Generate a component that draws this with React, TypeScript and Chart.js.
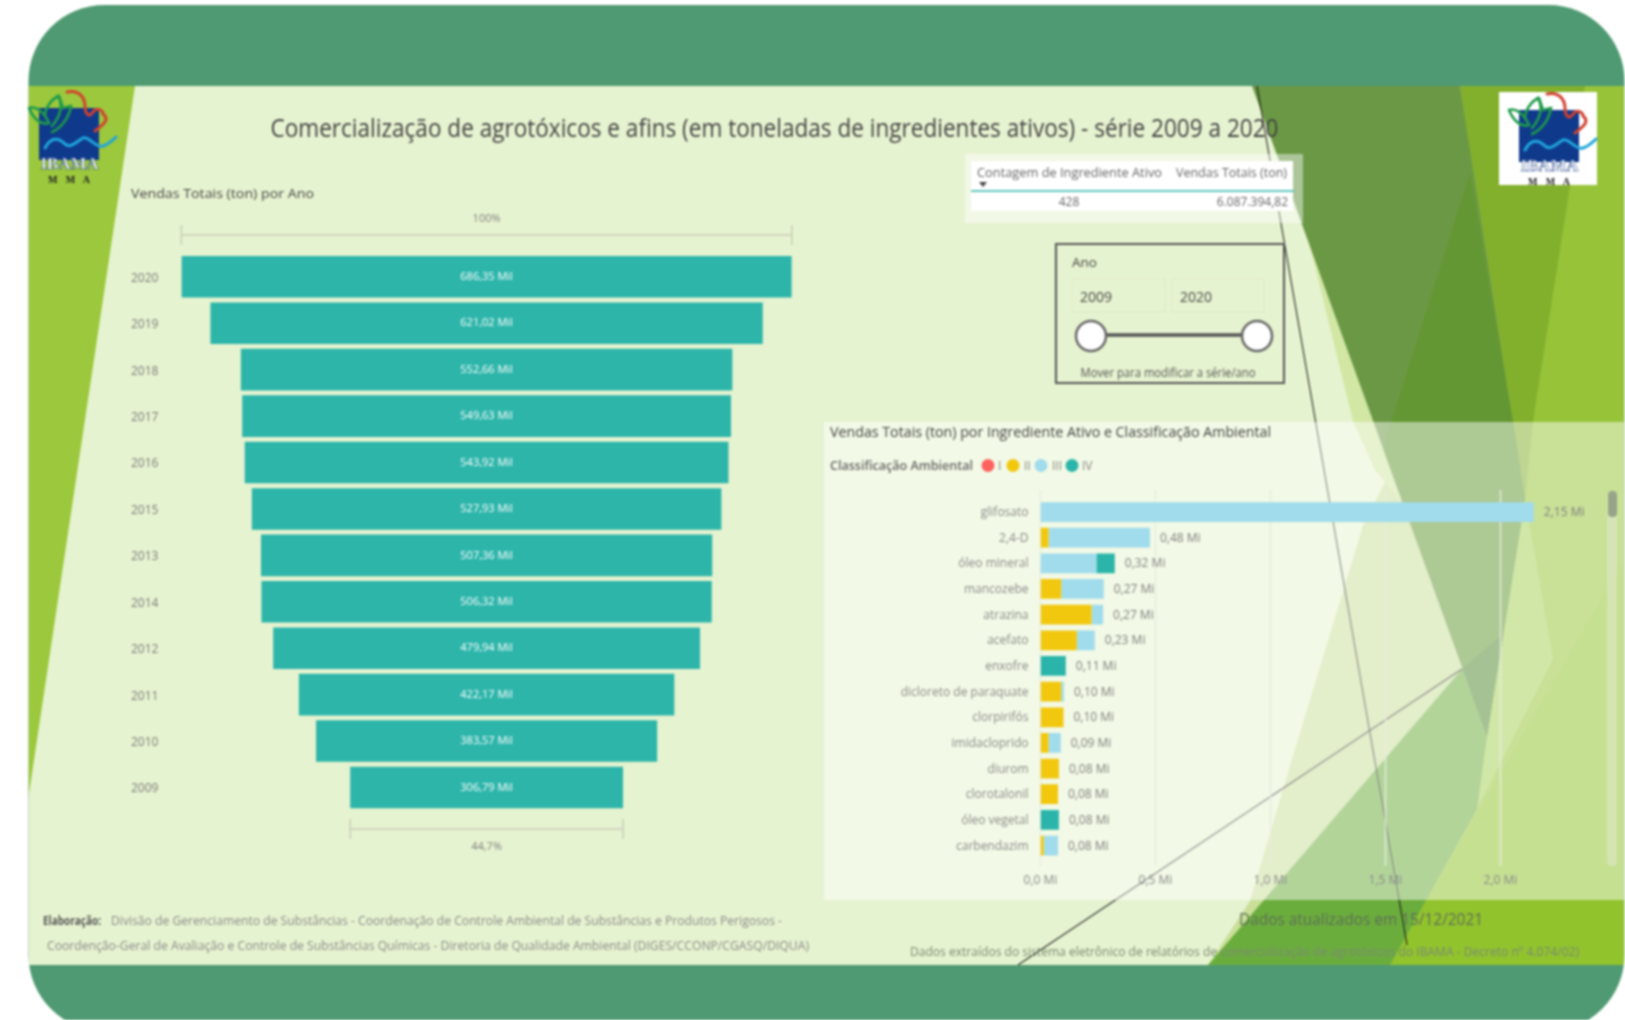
import React, { useEffect, useRef } from "react";
import { Chart, registerables } from "chart.js";

Chart.register(...registerables);

const FONT = "'Open Sans', sans-serif";

const years = ["2020", "2019", "2018", "2017", "2016", "2015", "2013", "2014", "2012", "2011", "2010", "2009"];
const salesThousands = [686.35, 621.02, 552.66, 549.63, 543.92, 527.93, 507.36, 506.32, 479.94, 422.17, 383.57, 306.79];
const salesLabels = ["686,35 Mil", "621,02 Mil", "552,66 Mil", "549,63 Mil", "543,92 Mil", "527,93 Mil", "507,36 Mil", "506,32 Mil", "479,94 Mil", "422,17 Mil", "383,57 Mil", "306,79 Mil"];
const funnelTopLabel = "100%";
const funnelBottomLabel = "44,7%";

const ingredients = ["glifosato", "2,4-D", "óleo mineral", "mancozebe", "atrazina", "acefato", "enxofre", "dicloreto de paraquate", "clorpirifós", "imidacloprido", "diurom", "clorotalonil", "óleo vegetal", "carbendazim"];
const classI = [0, 0, 0, 0, 0, 0, 0, 0, 0, 0, 0, 0, 0, 0];
const classII = [0, 0.035, 0, 0.09, 0.222, 0.158, 0, 0.09, 0.1, 0.035, 0.08, 0.076, 0, 0.014];
const classIII = [2.145, 0.441, 0.243, 0.185, 0.05, 0.078, 0, 0.012, 0, 0.053, 0, 0, 0, 0.062];
const classIV = [0, 0, 0.08, 0, 0, 0, 0.11, 0, 0, 0, 0, 0, 0.08, 0];
const totalLabels = ["2,15 Mi", "0,48 Mi", "0,32 Mi", "0,27 Mi", "0,27 Mi", "0,23 Mi", "0,11 Mi", "0,10 Mi", "0,10 Mi", "0,09 Mi", "0,08 Mi", "0,08 Mi", "0,08 Mi", "0,08 Mi"];
const xTickLabels = ["0,0 Mi", "0,5 Mi", "1,0 Mi", "1,5 Mi", "2,0 Mi"];

const legendNames = ["I", "II", "III", "IV"];
const COLORS = { I: "#FD625E", II: "#F2C80F", III: "#A0DCEC", IV: "#2BB5AA", funnel: "#2DB5AA" };

function Txt({ x, y, w, size = 12, fill = "#666", weight = 400, anchor = "start", family = FONT, children }: any) {
  return (
    <text
      x={x}
      y={y + size * 0.36}
      fontSize={size}
      fill={fill}
      fontWeight={weight}
      textAnchor={anchor}
      fontFamily={family}
      {...(w ? { textLength: w, lengthAdjust: "spacingAndGlyphs" } : {})}
    >
      {children}
    </text>
  );
}

function Logo({ tx, ty }: any) {
  return (
    <g transform={`translate(${tx} ${ty})`}>
      <rect x={14} y={22} width={60} height={52} fill="#0F3A8C" />
      <g fill="none" stroke="#1F9A4A" strokeWidth={2.6} strokeLinecap="round">
        <path d="M4 22 C10 20 18 24 24 37 C16 40 8 32 4 22" />
        <path d="M20 30 C20 22 26 14 33 10 C38 18 36 30 27 40" />
        <path d="M34 10 L38 22 C40 22 44 20 46 20 C44 32 36 42 27 46" />
      </g>
      <path d="M42 6 C54 3 60 12 60 20 C60 28 64 32 68 26 C72 21 78 24 78 28 C86 34 76 40 70 45" fill="none" stroke="#D2402F" strokeWidth={3} strokeLinecap="round" />
      <path d="M20 62 C26 50 34 52 40 58 C46 63 52 55 58 52 C64 50 70 62 78 60 C84 58 88 54 91 51" fill="none" stroke="#1FA5DC" strokeWidth={3} strokeLinecap="round" />
      <text x={44.5} y={83} textAnchor="middle" fontFamily="'Liberation Serif', serif" fontWeight={700} fontSize={16} fill="#fff" stroke="#1F3F86" strokeWidth={0.5} textLength={58} lengthAdjust="spacingAndGlyphs">IBAMA</text>
      <text x={44} y={97} textAnchor="middle" fontFamily="'Liberation Serif', serif" fontWeight={700} fontSize={10} fill="#222" textLength={42} lengthAdjust="spacing">M M A</text>
    </g>
  );
}

function Background() {
  return (
    <svg width={1625} height={1020} style={{ position: "absolute", left: 0, top: 0 }}>
      <defs>
        <clipPath id="frame">
          <rect x={28.5} y={5} width={1596} height={1026} rx={76} ry={76} />
        </clipPath>
        <clipPath id="body">
          <rect x={28.5} y={86} width={1596} height={879} />
        </clipPath>
      </defs>
      <g clipPath="url(#frame)">
        <rect x={0} y={0} width={1625} height={1020} fill="#4F9A72" />
        <g clipPath="url(#body)">
          <rect x={28} y={86} width={1597} height={879} fill="#E6F3D0" />
          <polygon points="28,86 135,86 28,800" fill="#9BC83C" />
          <polygon points="1391,470 1462,669 1208,965 1250,901 1290,766 1363,526" fill="#C9DF99" />
          <polygon points="1460,86 1624,86 1624,965 1390,965 1520,526" fill="#97C339" />
          <polygon points="1460,86 1585,86 1570,186 1533,421 1525,499 1513,421" fill="#82B02C" />
          <polygon points="1525,499 1553,659 1477,809 1487,736" fill="#A8D257" />
          <polygon points="1390,965 1624,560 1624,965" fill="#91C32D" />
          <polygon points="1208,965 1462,669 1487,736 1477,809 1390,965" fill="#6BAD3D" />
          <polygon points="1310,246 1373,421 1403,504 1375,470 1353,421" fill="#D2E7A4" />
          <polygon points="1252,86 1460,86 1525,499 1487,736" fill="#6B9845" />
          <polygon points="1470,173 1513,421 1525,499 1487,736 1383,448" fill="#639733" />
          <polygon points="1462,669 1503,634 1487,736" fill="#548A32" />
          <line x1={1257} y1={86} x2={1407} y2={945} stroke="#111" strokeWidth={1} />
          <line x1={1018} y1={965} x2={1462} y2={669} stroke="#222" strokeWidth={1.1} />
          <rect x={824} y={422} width={801} height={478} fill="#fff" fillOpacity={0.48} />
          <rect x={1607} y={492} width={10} height={374} rx={4} fill="#DDE6C4" fillOpacity={0.65} />
          <rect x={1608} y={491} width={9} height={26} rx={4} fill="#97A488" />
        </g>
      </g>
    </svg>
  );
}

function Overlay() {
  const legendDots = [
    { cx: 988, tx: 998, c: COLORS.I },
    { cx: 1013, tx: 1024, c: COLORS.II },
    { cx: 1041, tx: 1052, c: COLORS.III },
    { cx: 1072, tx: 1082, c: COLORS.IV },
  ];
  return (
    <svg width={1625} height={1020} style={{ position: "absolute", left: 0, top: 0, pointerEvents: "none" }}>
      <Logo tx={25} ty={86} />
      <rect x={1499} y={92} width={98} height={93} fill="#fff" />
      <Logo tx={1505} ty={88} />
      <Txt x={270.5} y={127.5} w={1008} size={26} fill="#444">Comercialização de agrotóxicos e afins (em toneladas de ingredientes ativos) - série 2009 a 2020</Txt>
      <Txt x={131} y={193} w={183} size={13.5} fill="#444">Vendas Totais (ton) por Ano</Txt>

      <rect x={965} y={154} width={338} height={69} fill="#fff" fillOpacity={0.45} />
      <rect x={971} y={161} width={322} height={50} fill="#fff" />
      <line x1={971} y1={191} x2={1294} y2={191} stroke="#2CB5AA" strokeWidth={1.5} />
      <Txt x={977} y={172} w={185} size={12.5} fill="#666">Contagem de Ingrediente Ativo</Txt>
      <Txt x={1176} y={172} w={111} size={12.5} fill="#666">Vendas Totais (ton)</Txt>
      <polygon points="979,182 987,182 983,187" fill="#444" />
      <Txt x={1069} y={202} size={12} fill="#666" anchor="middle">428</Txt>
      <Txt x={1288} y={202} size={12} fill="#666" anchor="end">6.087.394,82</Txt>

      <rect x={1056} y={244} width={228} height={139} fill="none" stroke="#555" strokeWidth={2} />
      <Txt x={1072} y={262} size={13.5} fill="#444">Ano</Txt>
      <rect x={1072} y={279} width={93} height={33} fill="none" stroke="#DDEAC8" />
      <rect x={1172} y={279} width={92} height={33} fill="none" stroke="#DDEAC8" />
      <Txt x={1080} y={296.5} size={14} fill="#444">2009</Txt>
      <Txt x={1180} y={296.5} size={14} fill="#444">2020</Txt>
      <line x1={1091} y1={335} x2={1257} y2={335} stroke="#555" strokeWidth={3.5} />
      <circle cx={1091} cy={336} r={15} fill="#fff" stroke="#666" strokeWidth={2.5} />
      <circle cx={1257} cy={336} r={15} fill="#fff" stroke="#666" strokeWidth={2.5} />
      <Txt x={1080.5} y={373} w={175} size={12} fill="#555">Mover para modificar a série/ano</Txt>

      <Txt x={830} y={432} w={441} size={14.5} fill="#444">Vendas Totais (ton) por Ingrediente Ativo e Classificação Ambiental</Txt>
      <Txt x={830} y={465.5} w={143} size={12.5} fill="#666" weight={600}>Classificação Ambiental</Txt>
      {legendDots.map((d, i) => (
        <g key={legendNames[i]}>
          <circle cx={d.cx} cy={465.5} r={6.5} fill={d.c} />
          <Txt x={d.tx} y={465.5} size={12} fill="#888">{legendNames[i]}</Txt>
        </g>
      ))}

      <Txt x={43} y={920.5} w={58} size={12} fill="#555" weight={700}>Elaboração:</Txt>
      <Txt x={111} y={920.5} w={671} size={12.5} fill="#8a8a8a">Divisão de Gerenciamento de Substâncias - Coordenação de Controle Ambiental de Substâncias e Produtos Perigosos -</Txt>
      <Txt x={47} y={945} w={762} size={12.5} fill="#8a8a8a">Coordenção-Geral de Avaliação e Controle de Substâncias Químicas - Diretoria de Qualidade Ambiental (DIGES/CCONP/CGASQ/DIQUA)</Txt>
      <Txt x={1239} y={919} w={244} size={17} fill="#5E6E55">Dados atualizados em 15/12/2021</Txt>
      <Txt x={910} y={951.5} w={669} size={12.5} fill="#7a8a72">Dados extraídos do sistema eletrônico de relatórios de comercialização de agrotóxicos do IBAMA - Decreto nº 4.074/02)</Txt>
    </svg>
  );
}

export default function App() {
  const funnelRef = useRef<HTMLCanvasElement>(null);
  const barRef = useRef<HTMLCanvasElement>(null);

  useEffect(() => {
    const peak = Math.max(...salesThousands);
    const low = Math.min(...salesThousands);

    const funnelDecor = {
      id: "funnelDecor",
      afterDatasetsDraw(chart: any) {
        const { ctx, chartArea, scales } = chart;
        const meta = chart.getDatasetMeta(0);
        ctx.save();
        ctx.textAlign = "center";
        ctx.textBaseline = "middle";
        ctx.font = `11px ${FONT}`;
        ctx.fillStyle = "#FFFFFF";
        meta.data.forEach((el: any, i: number) => ctx.fillText(salesLabels[i], scales.x.getPixelForValue(0), el.y, 60));
        const bracket = (half: number, y: number, text: string, ty: number) => {
          const a = scales.x.getPixelForValue(-half);
          const b = scales.x.getPixelForValue(half);
          ctx.strokeStyle = "#C9CDB8";
          ctx.lineWidth = 1.5;
          ctx.beginPath();
          ctx.moveTo(a, y); ctx.lineTo(b, y);
          ctx.moveTo(a, y - 10); ctx.lineTo(a, y + 10);
          ctx.moveTo(b, y - 10); ctx.lineTo(b, y + 10);
          ctx.stroke();
          ctx.fillStyle = "#808080";
          ctx.fillText(text, (a + b) / 2, ty);
        };
        bracket(peak / 2, chartArea.top - 18.6, funnelTopLabel, chartArea.top - 35);
        bracket(low / 2, chartArea.bottom + 18.3, funnelBottomLabel, chartArea.bottom + 36);
        ctx.restore();
      },
    };

    const funnel = new Chart(funnelRef.current!, {
      type: "bar",
      data: {
        labels: years,
        datasets: [{
          data: salesThousands.map((v) => [-v / 2, v / 2]) as any,
          backgroundColor: COLORS.funnel,
          borderWidth: 0,
          barPercentage: 1,
          categoryPercentage: 0.896,
        }],
      },
      options: {
        indexAxis: "y",
        animation: false,
        responsive: false,
        devicePixelRatio: 1,
        layout: { padding: { top: 48.6, bottom: 49.3, right: 19.2, left: 0 } },
        plugins: { legend: { display: false }, tooltip: { enabled: false } },
        scales: {
          x: { display: false, min: -peak / 2, max: peak / 2 },
          y: {
            grid: { display: false, drawTicks: false },
            border: { display: false },
            afterFit: (s: any) => { s.width = 50.4; },
            ticks: { crossAlign: "far", autoSkip: false, padding: 0, labelOffset: 1.5, color: "#7a7a7a", font: { family: FONT, size: 12 } },
          },
        },
      } as any,
      plugins: [funnelDecor],
    });

    const barDecor = {
      id: "barDecor",
      beforeDatasetsDraw(chart: any) {
        const { ctx, scales } = chart;
        ctx.save();
        ctx.strokeStyle = "rgba(232,236,226,0.9)";
        ctx.lineWidth = 1.5;
        scales.x.ticks.forEach((t: any) => {
          const x = scales.x.getPixelForValue(t.value);
          ctx.beginPath();
          ctx.moveTo(x, 490 - 480);
          ctx.lineTo(x, 866 - 480);
          ctx.stroke();
        });
        ctx.restore();
      },
      afterDatasetsDraw(chart: any) {
        const { ctx, scales } = chart;
        const meta = chart.getDatasetMeta(0);
        ctx.save();
        ctx.textAlign = "left";
        ctx.textBaseline = "middle";
        ctx.font = `12px ${FONT}`;
        ctx.fillStyle = "#7f7f7f";
        ingredients.forEach((_, i) => {
          const total = classI[i] + classII[i] + classIII[i] + classIV[i];
          ctx.fillText(totalLabels[i], scales.x.getPixelForValue(total) + 10, meta.data[i].y + 0.7);
        });
        ctx.restore();
      },
    };

    const bars = new Chart(barRef.current!, {
      type: "bar",
      data: {
        labels: ingredients,
        datasets: [
          { label: "I", data: classI, backgroundColor: COLORS.I },
          { label: "II", data: classII, backgroundColor: COLORS.II },
          { label: "III", data: classIII, backgroundColor: COLORS.III },
          { label: "IV", data: classIV, backgroundColor: COLORS.IV },
        ],
      },
      options: {
        indexAxis: "y",
        animation: false,
        responsive: false,
        devicePixelRatio: 1,
        datasets: { bar: { barPercentage: 0.77, categoryPercentage: 1, borderWidth: 0 } },
        layout: { padding: { top: 18.65, right: 10.8, bottom: 0, left: 0 } },
        plugins: { legend: { display: false }, tooltip: { enabled: false } },
        scales: {
          x: {
            stacked: true,
            min: 0,
            max: 2.49,
            grid: { display: false, drawTicks: false },
            border: { display: false },
            afterFit: (s: any) => { s.height = 36.65; },
            ticks: {
              stepSize: 0.5,
              includeBounds: false,
              maxRotation: 0,
              padding: 15,
              color: "#8a8a8a",
              font: { family: FONT, size: 12 },
              callback: (_: any, i: number) => xTickLabels[i],
            },
          },
          y: {
            stacked: true,
            grid: { display: false, drawTicks: false },
            border: { display: false },
            afterFit: (s: any) => { s.width = 216.5; },
            ticks: { autoSkip: false, padding: 12, labelOffset: 0.7, color: "#8a8a8a", font: { family: FONT, size: 12 } },
          },
        },
      } as any,
      plugins: [barDecor],
    });

    return () => {
      funnel.destroy();
      bars.destroy();
    };
  }, []);

  return (
    <div style={{ position: "fixed", left: 0, top: 0, width: 1625, height: 1020, background: "#fff", overflow: "hidden" }}>
      <div style={{ position: "absolute", inset: 0, filter: "blur(0.8px)" }}>
        <Background />
        <canvas ref={funnelRef} width={680} height={655} style={{ position: "absolute", left: 131, top: 205 }} />
        <canvas ref={barRef} width={800} height={415} style={{ position: "absolute", left: 824, top: 480 }} />
        <Overlay />
      </div>
    </div>
  );
}
